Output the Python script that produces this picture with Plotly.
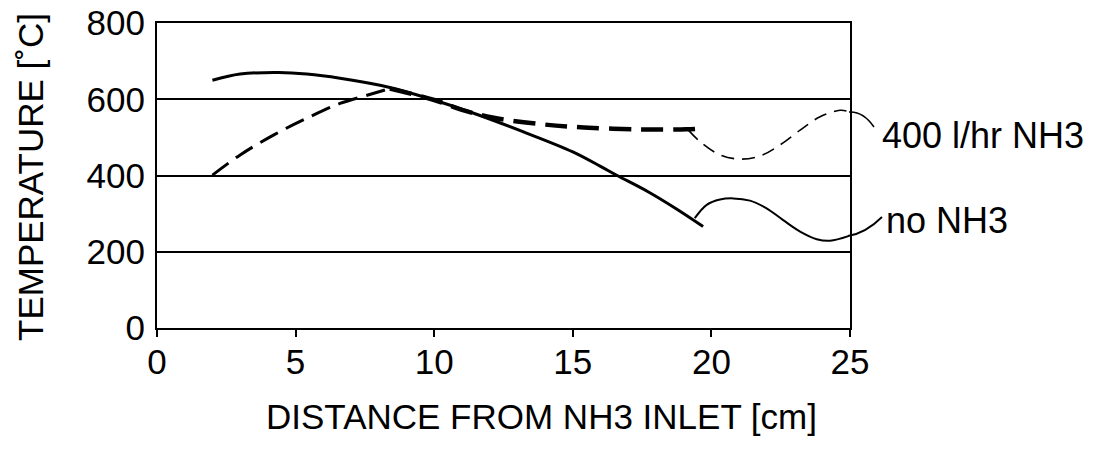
import plotly.graph_objects as go

# ---- data ----
# no NH3 (solid) - main branch
noNH3_x = [2.0, 3.0, 4.4, 5.4, 6.6, 8.4, 9.9, 11.4, 13.2, 15.0, 16.0, 16.6, 17.7, 18.7, 19.7]
noNH3_T = [650, 666, 670, 666, 655, 631, 600, 564, 515, 462, 424, 400, 358, 314, 266]
# no NH3 (solid) - wavy tail
noNH3_tail_x = [19.4, 19.83, 20.31, 20.79, 21.39, 21.99, 22.59, 23.2, 23.8, 24.28, 24.94]
noNH3_tail_T = [288, 323, 337, 340, 334, 314, 283, 253, 233, 229, 241]

# 400 l/hr NH3 (dashed) - main branch
nh3_x = [2.0, 3.0, 4.2, 5.4, 6.6, 7.7, 8.4, 10.0, 11.0, 12.1, 13.8, 15.4, 17.4, 19.1, 19.7]
nh3_T = [401, 454, 506, 550, 589, 613, 628, 598, 572, 552, 535, 526, 521, 521, 524]
# 400 l/hr NH3 (thin dashed) - wavy tail
nh3_tail_x = [19.17, 19.59, 20.31, 21.03, 21.75, 22.47, 23.2, 23.92, 24.64, 24.94]
nh3_tail_T = [519, 489, 454, 443, 451, 480, 519, 554, 571, 568]

x_ticks = [0, 5, 10, 15, 20, 25]
y_ticks = [0, 200, 400, 600, 800]

label_nh3 = "400 l/hr NH3"
label_no = "no NH3"
x_title = "DISTANCE FROM NH3 INLET [cm]"
y_title = "TEMPERATURE [˚C]"

FONT = "Liberation Sans, Arial, Helvetica, sans-serif"

fig = go.Figure()
fig.add_trace(go.Scatter(x=noNH3_x, y=noNH3_T, mode="lines",
                         line=dict(color="black", width=3, shape="spline"), showlegend=False))
fig.add_trace(go.Scatter(x=noNH3_tail_x, y=noNH3_tail_T, mode="lines",
                         line=dict(color="black", width=2, shape="spline"), showlegend=False))
fig.add_trace(go.Scatter(x=nh3_x[:7], y=nh3_T[:7], mode="lines",
                         line=dict(color="black", width=3, shape="spline", dash="20px,9px"), showlegend=False))
fig.add_trace(go.Scatter(x=nh3_x[6:], y=nh3_T[6:], mode="lines",
                         line=dict(color="black", width=4.5, shape="spline", dash="22px,10px"), showlegend=False))
fig.add_trace(go.Scatter(x=nh3_tail_x, y=nh3_tail_T, mode="lines",
                         line=dict(color="black", width=1.6, shape="spline", dash="13px,8px"), showlegend=False))

W, H = 1104, 453
L, R, T, B = 157, 254, 23, 125
PW, PH = W - L - R, H - T - B

def px(xp):
    return (xp - L) / PW

def py(yp):
    return (T + PH - yp) / PH

fig.update_layout(
    width=W, height=H,
    margin=dict(l=L, r=R, t=T, b=B, pad=0, autoexpand=False),
    paper_bgcolor="white", plot_bgcolor="white",
    font=dict(family=FONT, color="black", size=35),
    showlegend=False,
    xaxis=dict(range=[0, 25], tickvals=x_ticks, ticktext=[str(v) for v in x_ticks],
               showgrid=False, zeroline=False, showline=True, mirror=True,
               linecolor="black", linewidth=2, ticks="outside", ticklen=7,
               tickwidth=2, tickcolor="black", tickfont=dict(size=35),
               ticklabelstandoff=-5, automargin=False),
    yaxis=dict(range=[0, 800], tickvals=y_ticks, ticktext=[str(v) for v in y_ticks],
               showgrid=True, gridcolor="black", gridwidth=2, zeroline=False,
               showline=True, mirror=True, linecolor="black", linewidth=2,
               ticks="", tickfont=dict(size=35), ticklabelstandoff=3, automargin=False),
)

shapes = [
    dict(type="path", xref="paper", yref="paper",
         path=f"M {px(849)},{py(112)} Q {px(863)},{py(111)} {px(874)},{py(127)}",
         line=dict(color="black", width=1.5)),
    dict(type="path", xref="paper", yref="paper",
         path=f"M {px(848)},{py(236)} Q {px(866)},{py(233)} {px(882)},{py(217)}",
         line=dict(color="black", width=1.8)),
]
fig.update_layout(shapes=shapes)

fig.add_annotation(x=px(880), y=py(135), xref="paper", yref="paper", text=label_nh3,
                   showarrow=False, xanchor="left", yanchor="middle", font=dict(size=36))
fig.add_annotation(x=px(884), y=py(221), xref="paper", yref="paper", text=label_no,
                   showarrow=False, xanchor="left", yanchor="middle", font=dict(size=36))
fig.add_annotation(x=px(541), y=py(416), xref="paper", yref="paper", text=x_title,
                   showarrow=False, xanchor="center", yanchor="middle", font=dict(size=35))
fig.add_annotation(x=px(31), y=py(177), xref="paper", yref="paper", text=y_title,
                   showarrow=False, xanchor="center", yanchor="middle", textangle=-90,
                   font=dict(size=35))

fig.write_html("out.html", config={"displayModeBar": False},
               post_script="document.body.style.margin='0';document.body.style.overflow='hidden';")
